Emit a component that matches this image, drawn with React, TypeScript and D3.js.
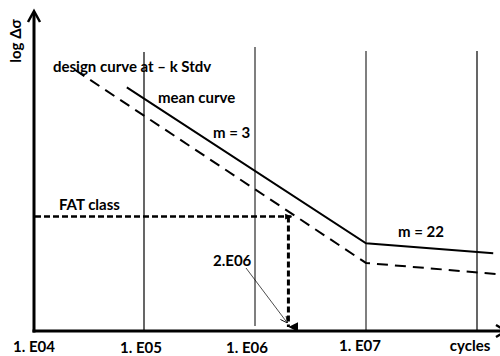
import React from "react";
import * as d3 from "d3";

// S-N diagram: cycles on a log axis, stress range on a log axis
const decadeTicks = [1e4, 1e5, 1e6, 1e7, 1e8];
const tickLabels = ["1. E04", "1. E05", "1. E06", "1. E07", "cycles"];
const gridTicks = [1e5, 1e6, 1e7, 1e8];

// mean curve (solid): N, Δσ
const meanN = [7.0e4, 1e7, 1.4e8];
const meanS = [390, 75.5, 68];

// design curve at -k Stdv (dashed): N, Δσ
const designN = [2.4e4, 1e7, 1.6e8];
const designS = [468, 61.4, 54.5];

// FAT class at 2.E06 cycles
const fatN = 2e6;
const fatS = 100;

const W = 500;
const H = 356;
const FONT = "Lato, 'Open Sans', sans-serif";

export default function App() {
  const x = d3.scaleLog().domain([1e4, 1e8]).range([33, 477]);
  const y = d3.scaleLog().domain([30, 880]).range([331, 10]);

  const line = d3
    .line<[number, number]>()
    .x((d) => x(d[0]))
    .y((d) => y(d[1]));

  const meanPts = meanN.map((n, i) => [n, meanS[i]] as [number, number]);
  const designPts = designN.map((n, i) => [n, designS[i]] as [number, number]);

  const axisY = y(30);
  const axisX = x(1e4);
  const fx = x(fatN);
  const fy = y(fatS);

  const gridTop = [52, 47, 51, 51];
  const labelX = [34, 141, 247, 360, 470];
  const labelY = [352, 353, 353, 351, 351];

  return (
    <svg
      width={W}
      height={H}
      style={{ position: "absolute", left: 0, top: 0, background: "#fff" }}
    >
      <defs>
        <marker id="headDown" viewBox="0 0 10 10" refX="5" refY="10" markerWidth="10" markerHeight="10" markerUnits="userSpaceOnUse" orient="auto-start-reverse">
          <path d="M0,0 L10,0 L5,10 Z" fill="#000" />
        </marker>
        <marker id="thinHead" viewBox="0 0 10 10" refX="10" refY="5" markerWidth="7" markerHeight="7" markerUnits="userSpaceOnUse" orient="auto">
          <path d="M0,0 L10,5 L0,10" fill="none" stroke="#000" strokeWidth="1.2" />
        </marker>
        <marker id="smallHead" viewBox="0 0 10 10" refX="9" refY="5" markerWidth="7" markerHeight="7" markerUnits="userSpaceOnUse" orient="auto">
          <path d="M0,1 L10,5 L0,9 Z" fill="#000" />
        </marker>
      </defs>

      {/* vertical decade lines */}
      {gridTicks.map((t, i) => (
        <line
          key={t}
          x1={x(t)}
          x2={x(t)}
          y1={gridTop[i]}
          y2={t === 1e6 ? 326 : axisY}
          stroke={t === 1e6 || t === 1e7 ? "#555" : "#000"}
          strokeWidth={t === 1e6 || t === 1e7 ? 1.5 : 1.2}
        />
      ))}

      {/* axes */}
      <line x1={axisX + 1} x2={axisX + 1} y1={axisY + 1.5} y2={12} stroke="#000" strokeWidth={3} />
      <path d={`M${axisX - 5},${22} L${axisX + 1},${11} L${axisX + 7},${22}`} fill="none" stroke="#000" strokeWidth={2.5} />
      <line x1={axisX - 0.5} x2={W} y1={axisY} y2={axisY} stroke="#000" strokeWidth={3} />
      <path d={`M${W - 4},${axisY - 6} L${W + 6},${axisY} L${W - 4},${axisY + 6}`} fill="none" stroke="#000" strokeWidth={2.5} />

      {/* design curve */}
      <path d={line(designPts) ?? ""} fill="none" stroke="#000" strokeWidth={2} strokeDasharray="11 7" />
      {/* mean curve */}
      <path d={line(meanPts) ?? ""} fill="none" stroke="#000" strokeWidth={2} />

      {/* FAT class level and 2.E06 drop */}
      <line x1={axisX + 2} x2={fx + 3} y1={fy} y2={fy} stroke="#000" strokeWidth={2.5} strokeDasharray="6 3" markerEnd="url(#smallHead)" />
      <line x1={fx} x2={fx} y1={fy} y2={axisY - 4} stroke="#000" strokeWidth={3} strokeDasharray="6 3" markerEnd="url(#headDown)" />
      <line x1={246} y1={268} x2={fx - 1} y2={axisY - 8} stroke="#000" strokeWidth={0.7} markerEnd="url(#thinHead)" />

      {/* labels */}
      <g fontFamily={FONT} fontWeight="bold" fontSize={15} fill="#000">
        <text x={21} y={41} textAnchor="middle" transform="rotate(-90 21 41)">log Δσ</text>
        <text x={53} y={72}>design curve at – k Stdv</text>
        <text x={158} y={103}>mean curve</text>
        <text x={213} y={138}>m = 3</text>
        <text x={59} y={210}>FAT class</text>
        <text x={213} y={266}>2.E06</text>
        <text x={398} y={237}>m = 22</text>
        {decadeTicks.map((t, i) => (
          <text key={t} x={labelX[i]} y={labelY[i]} textAnchor="middle">
            {tickLabels[i]}
          </text>
        ))}
      </g>
    </svg>
  );
}
